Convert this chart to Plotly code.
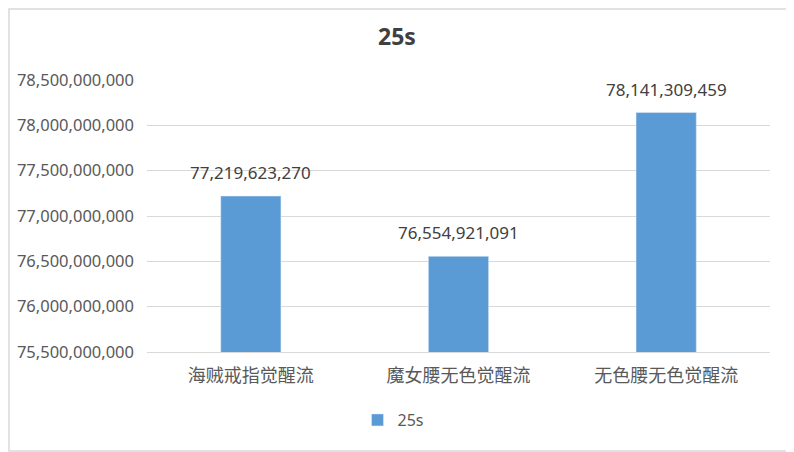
import plotly.graph_objects as go

# Données
CATEGORIES = ["海贼戒指觉醒流", "魔女腰无色觉醒流", "无色腰无色觉醒流"]
VALUES = [77219623270, 76554921091, 78141309459]
SERIES_NAME = "25s"
Y_TICKS = [75500000000, 76000000000, 76500000000, 77000000000,
           77500000000, 78000000000, 78500000000]

BAR_COLOR = "#5B9BD5"
TEXT_COLOR = "#404040"
GRID_COLOR = "#D9D9D9"

# La page ajoute une marge de 8 px autour de la figure
W, H = 786, 444
M_L, M_R, M_T, M_B = 139, 24, 72, 100
PW, PH = W - M_L - M_R, H - M_T - M_B


def main() -> None:
    fig = go.Figure()

    fig.add_trace(go.Bar(
        x=CATEGORIES,
        y=VALUES,
        name=SERIES_NAME,
        marker=dict(color=BAR_COLOR),
        showlegend=True,
    ))

    # Étiquettes de valeurs au-dessus des barres
    for cat, val in zip(CATEGORIES, VALUES):
        fig.add_annotation(
            x=cat, y=val, text=f"{val:,}",
            showarrow=False, yanchor="bottom", yshift=10,
            font=dict(family="Noto Sans, sans-serif", size=17, color=TEXT_COLOR),
        )

    fig.update_layout(
        title=dict(
            text="<b>25s</b>",
            font=dict(family="Noto Sans, sans-serif", size=23, color=TEXT_COLOR),
            x=389 / W, xanchor="center", y=1 - 29 / H, yanchor="middle",
        ),
        xaxis=dict(
            showgrid=False, automargin=False,
            showline=True, linewidth=1, linecolor=GRID_COLOR,
            ticks="", ticklabelstandoff=7,
            tickfont=dict(family="Noto Sans CJK SC, sans-serif", size=18, color="#595959"),
        ),
        yaxis=dict(
            range=[Y_TICKS[0], Y_TICKS[-1]],
            tickvals=Y_TICKS,
            tickformat=",d",
            automargin=False,
            showgrid=True, gridwidth=1, gridcolor=GRID_COLOR,
            zeroline=False, showline=False,
            ticks="", ticklabelstandoff=12,
            tickfont=dict(family="Noto Sans, sans-serif", size=16.5, color="#595959"),
        ),
        bargap=0.71,
        legend=dict(
            orientation="h",
            x=(393 - 8 - M_L) / PW, xanchor="center",
            y=-0.25, yanchor="middle",
            font=dict(family="Noto Sans, sans-serif", size=16, color="#595959"),
        ),
        plot_bgcolor="white", paper_bgcolor="white",
        margin=dict(l=M_L, r=M_R, t=M_T, b=M_B),
        width=W, height=H,
        shapes=[dict(
            type="rect", xref="paper", yref="paper",
            x0=-(M_L - 1) / PW, x1=1 + (M_R - 1) / PW,
            y0=-(M_B - 1) / PH, y1=1 + (M_T - 1) / PH,
            line=dict(color="#D9D9D9", width=1.5),
        )],
    )

    fig.write_html("out.html")


if __name__ == "__main__":
    main()
